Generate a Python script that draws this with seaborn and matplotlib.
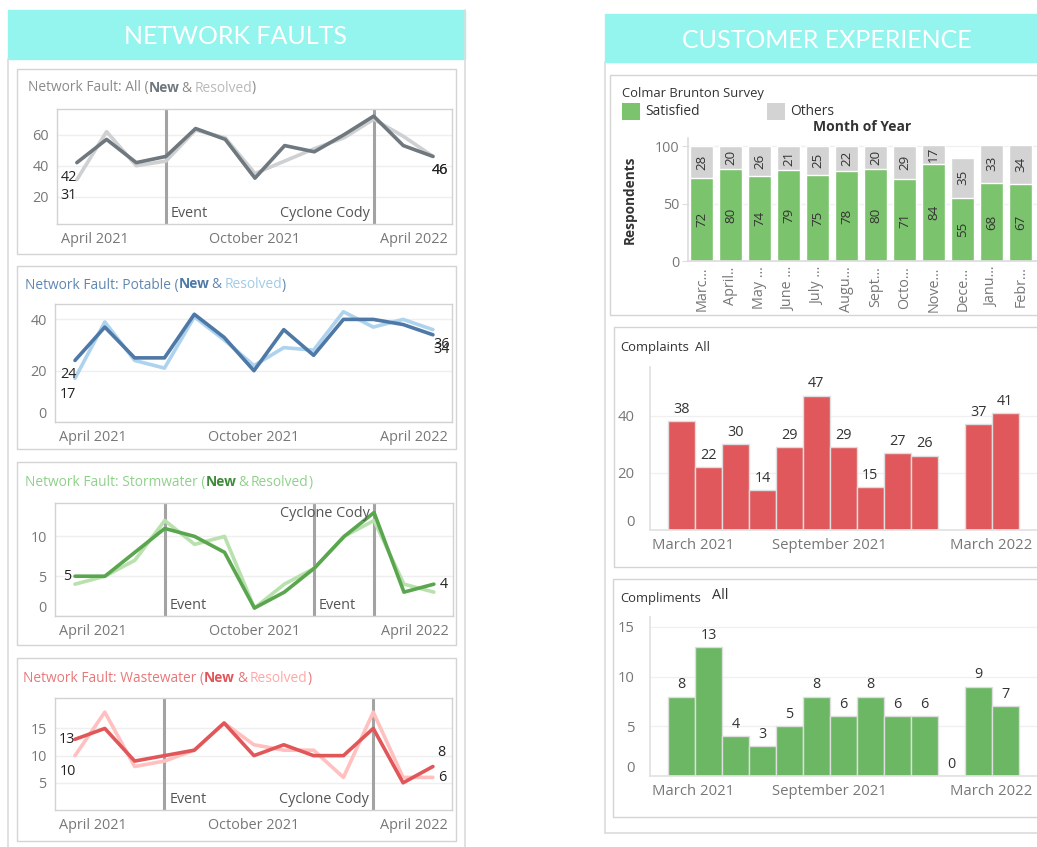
import numpy as np
import pandas as pd
import matplotlib
matplotlib.use("Agg")
import matplotlib.pyplot as plt
import seaborn as sns
from matplotlib.patches import Rectangle
from matplotlib.lines import Line2D
from matplotlib.transforms import ScaledTranslation
from matplotlib.offsetbox import TextArea, HPacker, DrawingArea, AnnotationBbox

# ---------------- data ----------------
FAULT_MONTHS = ["Apr 2021", "May 2021", "Jun 2021", "Jul 2021", "Aug 2021", "Sep 2021",
                "Oct 2021", "Nov 2021", "Dec 2021", "Jan 2022", "Feb 2022", "Mar 2022", "Apr 2022"]
FAULT_TICKS = {0: "April 2021", 6: "October 2021", 12: "April 2022"}

ALL_NEW = [42, 57, 42, 46, 64, 57, 32, 53, 49, 60, 72, 53, 46]
ALL_RESOLVED = [31, 62, 40, 43, 63, 58, 35, 43, 51, 58, 70, 59, 46]
POTABLE_NEW = [24, 37, 25, 25, 42, 33, 20, 36, 26, 40, 40, 38, 34]
POTABLE_RESOLVED = [17, 39, 24, 21, 41, 32, 22, 29, 28, 43, 37, 40, 36]
STORM_NEW = [5, 5, 8, 11, 10, 8, 1, 3, 6, 10, 13, 3, 4]
STORM_RESOLVED = [4, 5, 7, 12, 9, 10, 1, 4, 6, 10, 12, 4, 3]
WASTE_NEW = [13, 15, 9, 10, 11, 16, 10, 12, 10, 10, 15, 5, 8]
WASTE_RESOLVED = [10, 18, 8, 9, 11, 16, 12, 11, 11, 6, 18, 6, 6]

EVENTS_ALL = [(3, "Event"), (10, "Cyclone Cody")]
EVENTS_POTABLE = []
EVENTS_STORM = [(3, "Event"), (8, "Event"), (10, "Cyclone Cody")]
EVENTS_WASTE = [(3, "Event"), (10, "Cyclone Cody")]

SURVEY_MONTHS = ["Marc...", "April..", "May ...", "June ...", "July ...", "Augu...",
                 "Sept...", "Octo...", "Nove...", "Dece...", "Janu...", "Febr..."]
SATISFIED = [72, 80, 74, 79, 75, 78, 80, 71, 84, 55, 68, 67]
OTHERS = [28, 20, 26, 21, 25, 22, 20, 29, 17, 35, 33, 34]

CX_MONTHS = ["Mar 2021", "Apr 2021", "May 2021", "Jun 2021", "Jul 2021", "Aug 2021", "Sep 2021",
             "Oct 2021", "Nov 2021", "Dec 2021", "Jan 2022", "Feb 2022", "Mar 2022"]
CX_TICKS = {0: "March 2021", 6: "September 2021", 12: "March 2022"}
COMPLAINTS = [38, 22, 30, 14, 29, 47, 29, 15, 27, 26, np.nan, 37, 41]
COMPLIMENTS = [8, 13, 4, 3, 5, 8, 6, 8, 6, 6, 0, 9, 7]

# ---------------- setup ----------------
sns.set_theme(style="white")
plt.rcParams["font.family"] = ["Open Sans", "DejaVu Sans"]
W, H = 1037, 847
fig = plt.figure(figsize=(W / 100, H / 100), dpi=100)
fig.patch.set_facecolor("white")

TICK_C = "#777777"
TEXT_C = "#333333"
CYAN = "#94f5ef"
LAB = 10.4


def fx(x):
    return x / W


def fy(y):
    return 1 - y / H


def rect(x0, y0, x1, y1):
    return [x0 / W, 1 - y1 / H, (x1 - x0) / W, (y1 - y0) / H]


def box(x0, y0, x1, y1, fc="white", ec="#d4d4d4", lw=1.0, z=0):
    fig.add_artist(Rectangle((fx(x0), fy(y1)), (x1 - x0) / W, (y1 - y0) / H,
                             transform=fig.transFigure, facecolor=fc, edgecolor=ec,
                             linewidth=lw, zorder=z))


def vline(x, y0, y1, c="#dcdcdc", lw=1.2):
    fig.add_artist(Line2D([fx(x), fx(x)], [fy(y0), fy(y1)], transform=fig.transFigure,
                          color=c, lw=lw, zorder=0))


def hline(y, x0, x1, c="#dcdcdc", lw=1.2):
    fig.add_artist(Line2D([fx(x0), fx(x1)], [fy(y), fy(y)], transform=fig.transFigure,
                          color=c, lw=lw, zorder=0))


def shift(label, dx_px, dy_px=0):
    label.set_transform(label.get_transform() +
                        ScaledTranslation(dx_px / 100, dy_px / 100, fig.dpi_scale_trans))


def rich_title(x, y, pieces, size=9.9):
    kids = []
    for p in pieces:
        if isinstance(p, (int, float)):
            kids.append(DrawingArea(p, 1))
        else:
            s, c, w = p
            kids.append(TextArea(s, textprops=dict(color=c, fontweight=w, size=size)))
    pack = HPacker(children=kids, pad=0, sep=0, align="baseline")
    ab = AnnotationBbox(pack, (fx(x), fy(y)), xycoords="figure fraction",
                        box_alignment=(0, 0.5), frameon=False, pad=0)
    fig.add_artist(ab)


# ---------------- containers ----------------
HEAD_FONT = ["Lato", "Open Sans", "DejaVu Sans"]
box(8, 10, 465, 59, fc=CYAN, ec=CYAN)
vline(8, 59, 847)
vline(465, 10, 847)
fig.text(fx(236), fy(36), "NETWORK FAULTS", color="white", fontsize=18,
         family=HEAD_FONT, fontweight="normal", ha="center", va="center")

box(605, 14, 1040, 62, fc=CYAN, ec=CYAN)
vline(605, 62, 833)
hline(833, 605, 1037)
fig.text(fx(827), fy(41), "CUSTOMER EXPERIENCE", color="white", fontsize=18,
         family=HEAD_FONT, fontweight="normal", ha="center", va="center")

for b in [(17, 69, 456, 254), (17, 266, 456, 449), (17, 462, 456, 645), (17, 658, 456, 841),
          (610, 75, 1045, 315), (614, 327, 1045, 567), (613, 579, 1045, 817)]:
    box(*b)


# ---------------- line panels ----------------
def fault_panel(r, new, res, c_new, c_res, ylim, yticks, events, labels, cyclone_top=False):
    ax = fig.add_axes(rect(*r))
    n = len(FAULT_MONTHS)
    df = pd.DataFrame({
        "Month": list(range(n)) * 2,
        "Faults": list(res) + list(new),
        "Series": ["Resolved"] * n + ["New"] * n,
    })
    sns.lineplot(data=df, x="Month", y="Faults", hue="Series", hue_order=["Resolved", "New"],
                 palette={"Resolved": c_res, "New": c_new}, linewidth=2.6, legend=False,
                 ax=ax, sort=False)
    ax.set_xlim(-0.67, n - 1 + 0.64)
    ax.set_ylim(*ylim)
    ax.set_xlabel("")
    ax.set_ylabel("")
    ax.set_yticks(yticks)
    ax.set_yticklabels([str(t) for t in yticks])
    ax.set_xticks(range(n))
    ax.set_xticklabels([FAULT_TICKS.get(i, "") for i in range(n)])
    ax.tick_params(axis="x", length=3, width=0.8, color="#dddddd", labelcolor=TICK_C,
                   labelsize=LAB, pad=3)
    ax.tick_params(axis="y", length=0, labelcolor=TICK_C, labelsize=LAB, pad=6)
    xl = ax.get_xticklabels()
    shift(xl[0], 18)
    shift(xl[-1], -19)
    for t, lab in zip(yticks, ax.get_yticklabels()):
        if t == 0:
            lab.set_va("bottom")
    ax.yaxis.grid(True, color="#efefef", lw=1)
    ax.set_axisbelow(True)
    for s in ax.spines.values():
        s.set_color("#d2d2d2")
        s.set_linewidth(1)
    for idx, name in events:
        ax.axvline(idx, color="#a3a3a3", lw=2.2, zorder=1.5)
        if name == "Event":
            ax.annotate(name, (idx, 0), xycoords=("data", "axes fraction"), xytext=(3.5, 2),
                        textcoords="offset points", ha="left", va="bottom", color="#555555",
                        fontsize=LAB)
        else:
            top = cyclone_top
            ax.annotate(name, (idx, 1 if top else 0), xycoords=("data", "axes fraction"),
                        xytext=(-3, -2 if top else 2), textcoords="offset points", ha="right",
                        va="top" if top else "bottom", color="#555555", fontsize=LAB)
    for series, i, ha, va, dx, dy in labels:
        ax.annotate(str(series[i]), (i, series[i]), xytext=(dx, dy), textcoords="offset points",
                    ha=ha, va=va, color="#222222", fontsize=LAB)
    return ax


fault_panel((57, 109, 452, 224), ALL_NEW, ALL_RESOLVED, "#6e787e", "#cfd0d1",
            (2.4, 76.6), [20, 40, 60], EVENTS_ALL,
            [(ALL_NEW, 0, "right", "top", 0, -5), (ALL_RESOLVED, 0, "right", "top", 0, -6),
             (ALL_NEW, 12, "left", "top", -1, -5), (ALL_RESOLVED, 12, "left", "top", -1, -5)])
rich_title(28, 88, [("Network Fault: All (", "#8a8a8a", "normal"), ("New", "#6e787e", "bold"), 1.5,
                    ("&", "#8a8a8a", "normal"), 2, ("Resolved", "#b9b9b9", "normal"),
                    (")", "#8a8a8a", "normal")])

fault_panel((55, 304, 452, 422), POTABLE_NEW, POTABLE_RESOLVED, "#4e79a7", "#aed3ee",
            (0, 46), [0, 20, 40], EVENTS_POTABLE,
            [(POTABLE_NEW, 0, "right", "top", 1, -5), (POTABLE_RESOLVED, 0, "right", "top", 1, -6),
             (POTABLE_NEW, 12, "left", "top", 0, -5), (POTABLE_RESOLVED, 12, "left", "top", 0, -5)])
rich_title(25, 285, [("Network Fault: Potable (", "#5f87b3", "normal"), ("New", "#4e79a7", "bold"), 1.5,
                     ("&", "#5f87b3", "normal"), 2, ("Resolved", "#a0cbe8", "normal"),
                     (")", "#5f87b3", "normal")])

fault_panel((55, 503, 453, 616), STORM_NEW, STORM_RESOLVED, "#5aa64f", "#b9e1ae",
            (0, 14.2), [0, 5, 10], EVENTS_STORM,
            [(STORM_NEW, 0, "right", "center", -3, 0), (STORM_NEW, 12, "left", "center", 4, 0)],
            cyclone_top=True)
rich_title(25, 482, [("Network Fault: Stormwater (", "#8fd18a", "normal"), ("New", "#3f8a3a", "bold"), 1.5,
                     ("&", "#8fd18a", "normal"), 2, ("Resolved", "#8fd18a", "normal"),
                     (")", "#8fd18a", "normal")])

fault_panel((55, 698, 452, 810), WASTE_NEW, WASTE_RESOLVED, "#e15759", "#ffc0bf",
            (0, 20.6), [5, 10, 15], EVENTS_WASTE,
            [(WASTE_NEW, 0, "right", "center", 0, 0), (WASTE_RESOLVED, 0, "right", "top", 1, -6),
             (WASTE_NEW, 12, "left", "bottom", 3, 5), (WASTE_RESOLVED, 12, "left", "center", 4, 0)])
rich_title(23, 678, [("Network Fault: Wastewater (", "#e7787a", "normal"), ("New", "#e15759", "bold"), 1.5,
                     ("&", "#e7787a", "normal"), 2, ("Resolved", "#ffa9a7", "normal"),
                     (")", "#e7787a", "normal")])

# ---------------- survey ----------------
ax = fig.add_axes(rect(688, 138, 1065, 261))
sdf = pd.DataFrame({"Month": SURVEY_MONTHS, "Satisfied": SATISFIED, "Others": OTHERS})
sdf["Total"] = sdf["Satisfied"] + sdf["Others"]
sns.barplot(data=sdf, x="Month", y="Total", color="#d3d3d3", saturation=1, width=0.8, ax=ax)
sns.barplot(data=sdf, x="Month", y="Satisfied", color="#7cc36d", saturation=1, width=0.8, ax=ax)
ax.set_xlim(-0.47, 12.53)
ax.set_ylim(0, 107)
ax.set_yticks([0, 50, 100])
ax.set_xlabel("")
ax.set_ylabel("Respondents", fontsize=9.8, fontweight="bold", color=TEXT_C)
ax.yaxis.set_label_coords(-0.135, 0.5)
ax.tick_params(axis="x", rotation=90, length=0, labelcolor=TICK_C, labelsize=LAB, pad=4)
ax.tick_params(axis="y", length=4, width=0.8, color="#dddddd", left=True, labelcolor=TICK_C,
               labelsize=LAB, pad=2)
ax.yaxis.grid(True, color="#f0f0f0", lw=1)
ax.set_axisbelow(True)
for s in ["top", "right"]:
    ax.spines[s].set_visible(False)
for s in ["left", "bottom"]:
    ax.spines[s].set_color("#dddddd")
for i, (s_, o_) in enumerate(zip(SATISFIED, OTHERS)):
    ax.text(i, s_ / 2, str(s_), rotation=90, ha="center", va="center", fontsize=9.6, color=TEXT_C)
    ax.text(i, s_ + o_ / 2, str(o_), rotation=90, ha="center", va="center", fontsize=9.6, color=TEXT_C)
fig.text(fx(862), fy(127), "Month of Year", fontsize=10, fontweight="bold", color=TEXT_C,
         ha="center", va="center")
fig.text(fx(622), fy(93), "Colmar Brunton Survey", fontsize=9.4, color=TEXT_C, ha="left", va="center")
box(622, 103, 640, 120, fc="#7cc36d", ec="none")
fig.text(fx(645), fy(111.5), "Satisfied", fontsize=9.9, color=TEXT_C, ha="left", va="center")
box(767, 103, 785, 120, fc="#d3d3d3", ec="none")
fig.text(fx(790), fy(111.5), "Others", fontsize=9.9, color=TEXT_C, ha="left", va="center")


# ---------------- complaints / compliments ----------------
def cx_panel(r, values, color, ylim, yticks):
    ax = fig.add_axes(rect(*r))
    d = pd.DataFrame({"Month": CX_MONTHS, "Count": values})
    sns.barplot(data=d, x="Month", y="Count", order=CX_MONTHS, color=color, saturation=1,
                width=1.0, edgecolor="#dedede", linewidth=1, ax=ax)
    ax.set_xlim(-1.167, 13.18)
    ax.set_ylim(*ylim)
    ax.set_yticks(yticks)
    ax.set_xlabel("")
    ax.set_ylabel("")
    n = len(CX_MONTHS)
    ax.set_xticks([i - 0.5 for i in range(n)])
    ax.set_xticklabels([CX_TICKS.get(i, "") for i in range(n)])
    ax.set_xticks([i - 0.5 for i in range(0, n + 1, 2)], minor=True)
    ax.tick_params(axis="x", which="major", length=0, labelcolor=TICK_C, labelsize=10.7, pad=6)
    ax.tick_params(axis="x", which="minor", length=4, width=0.8, color="#d8d8d8", bottom=True)
    ax.tick_params(axis="y", length=0, labelcolor=TICK_C, labelsize=10.7, pad=11)
    shift(ax.get_xticklabels()[0], 25)
    for t, lab in zip(yticks, ax.get_yticklabels()):
        if t == 0:
            lab.set_va("bottom")
    ax.yaxis.grid(True, color="#f0f0f0", lw=1)
    ax.set_axisbelow(True)
    for s in ["top", "right"]:
        ax.spines[s].set_visible(False)
    for s in ["left", "bottom"]:
        ax.spines[s].set_color("#e2e2e2")
    for i, v in enumerate(values):
        if not np.isnan(v):
            ax.annotate(f"{int(v)}", (i, v), xytext=(0, 3), textcoords="offset points",
                        ha="center", va="bottom", fontsize=10.4, color=TEXT_C)
    return ax


cx_panel((650, 367, 1037, 530), COMPLAINTS, "#e0585b", (0, 57), [0, 20, 40])
fig.text(fx(620), fy(347), "Complaints", fontsize=9.4, color=TEXT_C, ha="left", va="center")
fig.text(fx(695), fy(347), "All", fontsize=9.4, color=TEXT_C, ha="left", va="center")

cx_panel((650, 617, 1037, 776), np.array(COMPLIMENTS, dtype=float), "#6cb764", (0, 16), [0, 5, 10, 15])
fig.text(fx(620), fy(598), "Compliments", fontsize=9.4, color=TEXT_C, ha="left", va="center")
fig.text(fx(712), fy(595), "All", fontsize=10.4, color=TEXT_C, ha="left", va="center")

fig.savefig("out.png", dpi=100, facecolor="white")
